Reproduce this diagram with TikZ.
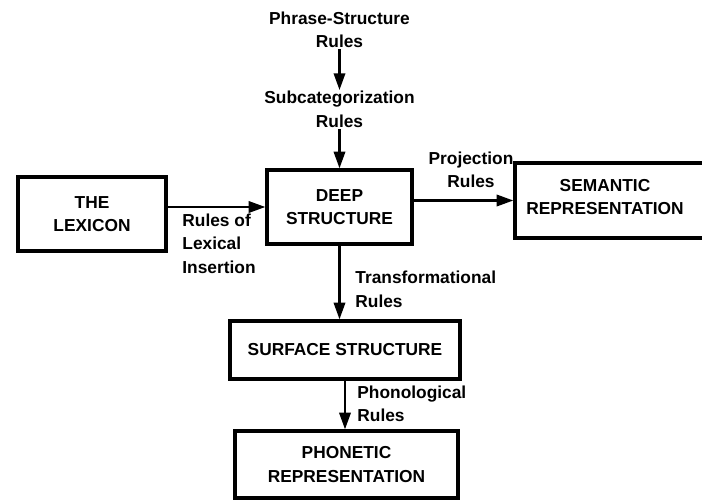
\documentclass[tikz,border=0pt]{standalone}
\usepackage{fontspec}
\setmainfont{Liberation Sans}
\usetikzlibrary{arrows.meta}

\tikzset{
  box/.style={draw, line width=2.8pt, align=center, inner sep=0pt},
  lbl/.style={inner sep=1pt},
  flow/.style={-{Triangle[length=5mm,width=3.4mm]}, line width=2pt},
}

\begin{document}
\begin{tikzpicture}[x=0.03cm, y=-0.03cm, font=\fontsize{14.8}{20}\selectfont\bfseries]
  \useasboundingbox (0,0) rectangle (702,500);
  \clip (0,0) rectangle (702,500);

  % Boxes
  \node[box, minimum width=4.44cm, minimum height=2.22cm] (lex) at (92,214)
    {THE\\LEXICON};
  \node[box, minimum width=4.35cm, minimum height=2.22cm] (deep) at (339.5,207)
    {DEEP\\STRUCTURE};
  \node[box, minimum width=6.6cm, minimum height=2.25cm] (sem) at (625,200.5) {};
  \node[lbl, align=center] (semtext) at (605,197) {SEMANTIC\\REPRESENTATION};
  \node[box, minimum width=6.9cm, minimum height=1.74cm] (surf) at (345,350)
    {SURFACE STRUCTURE};
  \node[box, minimum width=6.69cm, minimum height=2.01cm] (phon) at (346.5,464.5)
    {PHONETIC\\REPRESENTATION};

  % Rule sets
  \node[lbl, align=center] (psr) at (339.5,30) {Phrase-Structure\\Rules};
  \node[lbl, align=center] (subcat) at (339.5,109.5) {Subcategorization\\Rules};
  \node[lbl, align=left, anchor=west] (lexins) at (181,243.5)
    {Rules of\\Lexical\\Insertion};
  \node[lbl, align=center] (proj) at (471,170) {Projection\\Rules};
  \node[lbl, align=left, anchor=west] (trans) at (354,289.5)
    {Transformational\\Rules};
  \node[lbl, align=left, anchor=west] (phonol) at (356,404)
    {Phonological\\Rules};

  % Arrows
  \draw[flow] (psr.south) -- (subcat.north);
  \draw[flow] (subcat.south) -- (deep.north);
  \draw[flow] (lex.east |- deep.west) -- (deep.west);
  \draw[flow] (deep.east |- sem.west) -- (sem.west);
  \draw[flow] (deep.south) -- (deep.south |- surf.north);
  \draw[flow] (surf.south) -- (surf.south |- phon.north);
\end{tikzpicture}
\end{document}
